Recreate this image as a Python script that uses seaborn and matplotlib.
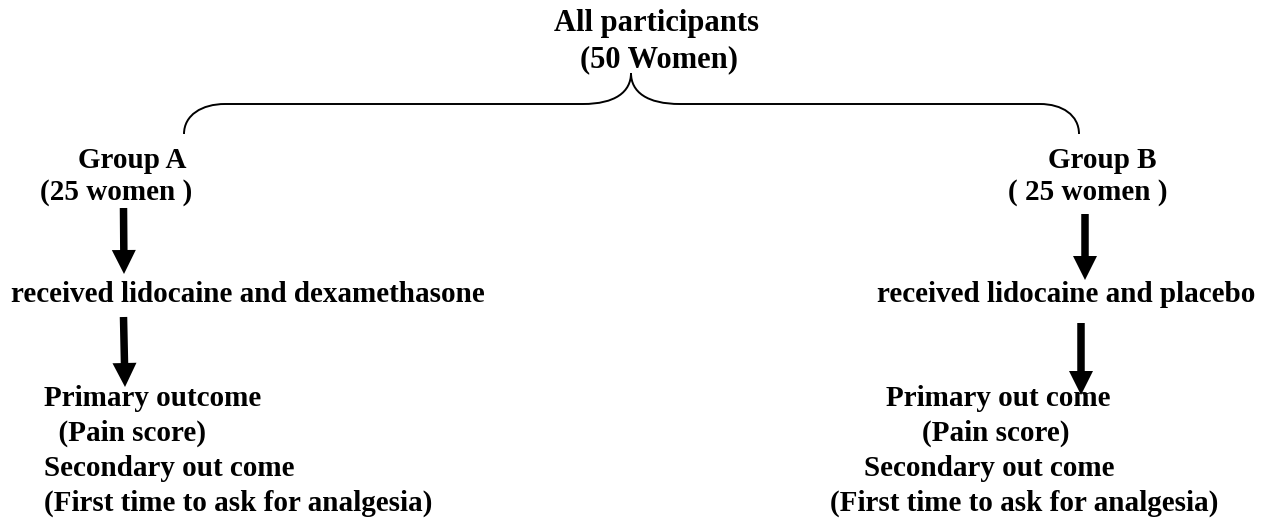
import matplotlib
matplotlib.use("Agg")
import matplotlib.pyplot as plt
import seaborn as sns
from matplotlib.path import Path
from matplotlib.patches import PathPatch, FancyArrow

sns.set_theme(style="white")
plt.rcParams['font.family'] = 'serif'
plt.rcParams['font.serif'] = ['Liberation Serif', 'Times New Roman', 'DejaVu Serif']

# ---- content ----
top_title = "All participants"
top_count = "(50 Women)"
group_labels = ["Group A", "Group B"]
group_counts = ["(25 women )", "( 25 women )"]
treatments = ["received lidocaine and dexamethasone", "received lidocaine and placebo"]
outcomes_a = ["Primary outcome", "  (Pain score)", "Secondary out come", "(First time to ask for analgesia)"]
outcomes_b = ["Primary out come", "(Pain score)", "Secondary out come", "(First time to ask for analgesia)"]

W, H = 1272, 522
fig = plt.figure(figsize=(W / 100, H / 100), dpi=100)
ax = fig.add_axes([0, 0, 1, 1])
ax.set_xlim(0, W)
ax.set_ylim(H, 0)
ax.axis("off")

fs = 21
kw = dict(fontsize=fs, fontweight="bold", color="black")
kw_top = dict(fontsize=22, fontweight="bold", color="black")

# top
ax.text(657, 24, top_title, ha="center", va="center", **kw_top)
ax.text(659, 60, top_count, ha="center", va="center", **kw_top)

# brace
verts = [
    (184, 134),
    (184, 115), (202, 104), (225, 104),
    (583, 104),
    (615, 104), (631, 92), (631, 73),
    (631, 92), (647, 104), (680, 104),
    (1040, 104),
    (1062, 104), (1079, 115), (1079, 134),
]
codes = [Path.MOVETO,
         Path.CURVE4, Path.CURVE4, Path.CURVE4,
         Path.LINETO,
         Path.CURVE4, Path.CURVE4, Path.CURVE4,
         Path.CURVE4, Path.CURVE4, Path.CURVE4,
         Path.LINETO,
         Path.CURVE4, Path.CURVE4, Path.CURVE4]
ax.add_patch(PathPatch(Path(verts, codes), fill=False, lw=1.4, color="black",
                       capstyle="butt"))

# group labels
ax.text(132, 160, group_labels[0], ha="center", va="center", **kw)
ax.text(116, 193, group_counts[0], ha="center", va="center", **kw)
ax.text(1102, 160, group_labels[1], ha="center", va="center", **kw)
ax.text(1088, 193, group_counts[1], ha="center", va="center", **kw)

# arrows
def arrow(x0, y0, x1, y1):
    ax.add_patch(FancyArrow(x0, y0, x1 - x0, y1 - y0, width=7.5, head_width=24,
                            head_length=24, length_includes_head=True,
                            color="black", lw=0))

arrow(123.5, 208, 124, 274)
arrow(123.5, 317, 125, 387)
arrow(1085, 214, 1085, 280)
arrow(1081, 323, 1081, 395)

# treatments
ax.text(11, 294, treatments[0], ha="left", va="center", **kw)
ax.text(877, 295, treatments[1], ha="left", va="center", **kw)

# outcomes
ys = [398, 433, 468, 503]
xa = [44, 44, 44, 44]
for y, x, t in zip(ys, xa, outcomes_a):
    ax.text(x, y, t, ha="left", va="center", **kw)
xb_center = [998, 996, 989, 1024]
for y, x, t in zip(ys, xb_center, outcomes_b):
    ax.text(x, y, t, ha="center", va="center", **kw)

fig.savefig("out.png", dpi=100, facecolor="white")
